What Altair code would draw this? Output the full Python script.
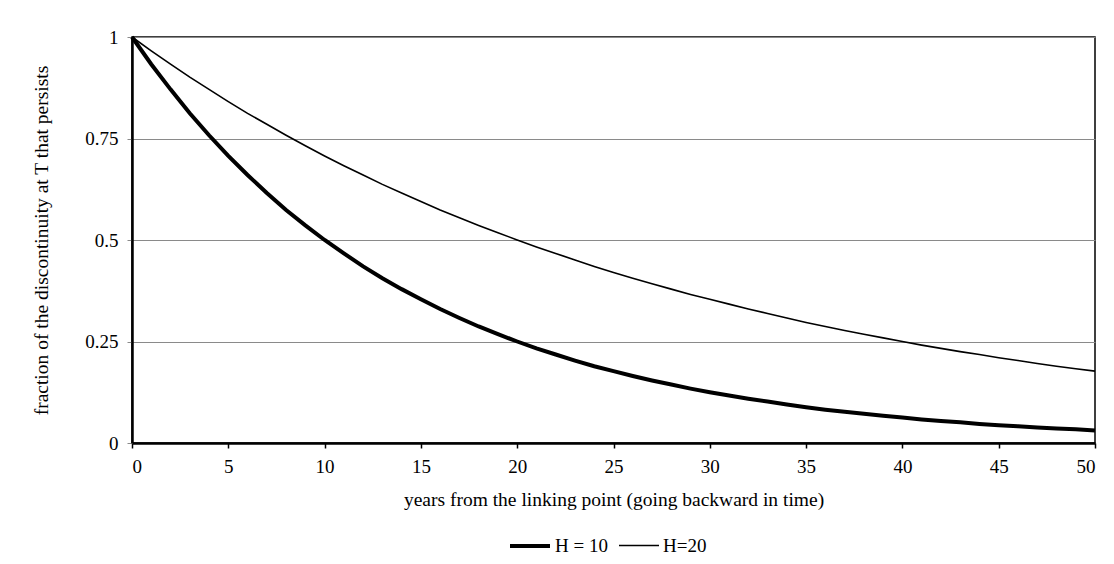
import altair as alt
import pandas as pd

years = list(range(0, 51))
h10 = [1.000, 0.933, 0.871, 0.812, 0.758, 0.707, 0.660, 0.616, 0.574, 0.536,
       0.500, 0.467, 0.435, 0.406, 0.379, 0.354, 0.330, 0.308, 0.287, 0.268,
       0.250, 0.233, 0.218, 0.203, 0.189, 0.177, 0.165, 0.154, 0.144, 0.134,
       0.125, 0.117, 0.109, 0.102, 0.095, 0.088, 0.082, 0.077, 0.072, 0.067,
       0.063, 0.058, 0.054, 0.051, 0.047, 0.044, 0.041, 0.038, 0.036, 0.034,
       0.031]
h20 = [1.000, 0.966, 0.933, 0.901, 0.871, 0.841, 0.812, 0.785, 0.758, 0.732,
       0.707, 0.683, 0.660, 0.637, 0.616, 0.595, 0.574, 0.555, 0.536, 0.518,
       0.500, 0.483, 0.467, 0.451, 0.435, 0.420, 0.406, 0.392, 0.379, 0.366,
       0.354, 0.342, 0.330, 0.319, 0.308, 0.297, 0.287, 0.277, 0.268, 0.259,
       0.250, 0.241, 0.233, 0.225, 0.218, 0.210, 0.203, 0.196, 0.189, 0.183,
       0.177]
series_names = ["H = 10", "H=20"]
x_ticks = [0, 5, 10, 15, 20, 25, 30, 35, 40, 45, 50]
y_ticks = [0, 0.25, 0.5, 0.75, 1]

rows = []
for name, vals in zip(series_names, [h10, h20]):
    for t, v in zip(years, vals):
        rows.append({"year": t, "value": v, "series": name})
df = pd.DataFrame(rows)

FONT = "Liberation Serif"
FS = 19
TFS = 19.5

legend_kw = dict(title=None, orient="none", legendX=376, legendY=487,
                 direction="horizontal", symbolType="stroke", symbolSize=1600,
                 labelFont=FONT, labelFontSize=FS, labelColor="black",
                 columnPadding=7, labelOffset=3)

chart = alt.Chart(df).mark_line(interpolate="linear").encode(
    x=alt.X("year:Q",
            scale=alt.Scale(domain=[0, 50], nice=False, zero=True),
            axis=alt.Axis(values=x_ticks, title="years from the linking point (going backward in time)",
                          grid=False, domainColor="black", domainWidth=2.5,
                          tickColor="black", tickWidth=1.5, tickSize=5,
                          labelPadding=9, titlePadding=14)),
    y=alt.Y("value:Q",
            scale=alt.Scale(domain=[0, 1], nice=False),
            axis=alt.Axis(values=y_ticks, title="fraction of the discontinuity at T that persists",
                          labelExpr="datum.value == 0 ? '0' : datum.value == 1 ? '1' : format(datum.value, '.2~f')",
                          grid=True, gridColor="#8a8a8a", gridWidth=1,
                          domainColor="black", domainWidth=2.5,
                          tickColor="#8a8a8a", tickWidth=1, tickSize=5,
                          labelPadding=9, titlePadding=33)),
    color=alt.Color("series:N",
                    scale=alt.Scale(domain=series_names, range=["black", "black"]),
                    legend=alt.Legend(**legend_kw)),
    strokeWidth=alt.StrokeWidth("series:N",
                                scale=alt.Scale(domain=series_names, range=[4, 1.6]),
                                legend=alt.Legend(**legend_kw)),
).properties(
    width=963, height=406,
    autosize=alt.AutoSizeParams(type="none"),
    padding={"left": 124, "top": 29, "right": 11, "bottom": 113},
).configure_view(
    stroke="black", strokeWidth=1.5
).configure_axis(
    labelFont=FONT, labelFontSize=FS, labelColor="black",
    titleFont=FONT, titleFontSize=TFS, titleFontWeight="normal", titleColor="black",
    gridOpacity=1
).configure_legend(
    symbolStrokeColor="black"
)

chart.save("out.html", embed_options={"renderer": "svg", "actions": False})
